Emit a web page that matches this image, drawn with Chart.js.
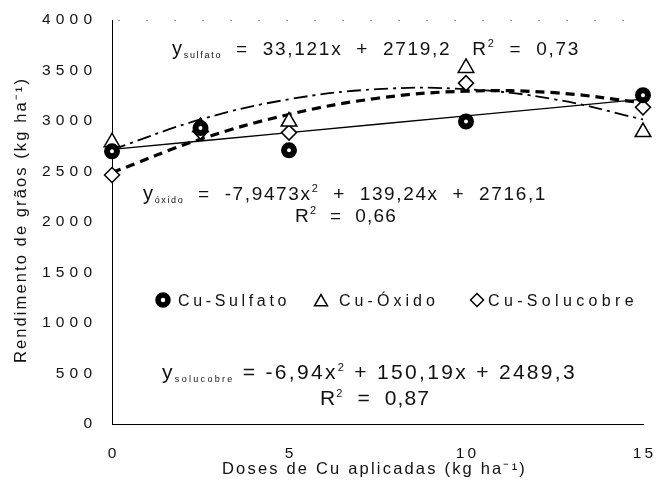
<!DOCTYPE html>
<html>
<head>
<meta charset="utf-8">
<script src="https://cdn.jsdelivr.net/npm/chart.js@4/dist/chart.umd.min.js"></script>
<style>
  html, body { margin: 0; padding: 0; background: #fff; }
  #wrap { width: 658px; height: 488px; }
</style>
</head>
<body>
<div id="wrap"><canvas id="chart"></canvas></div>
<script>
// observed yields (kg/ha) per Cu dose
const doses = [0, 2.5, 5, 10, 15];
const sulfato = [2700, 2930, 2710, 2995, 3255];
const oxido = [2790, 2940, 2995, 3525, 2890];
const solucobre = [2465, 2895, 2885, 3375, 3135];

// fitted curves
const fitX = [0, 2.5, 5, 7.5, 10, 12.5, 15];
const sulfatoFit = [2719, 2802, 2885, 2968, 3050, 3133, 3216];
const oxidoFit = [2716, 3015, 3215, 3315, 3315, 3215, 3015];
const solucobreFit = [2489, 2820, 3065, 3225, 3295, 3280, 3180];

const FONT = '"Liberation Sans", Arial, Helvetica, sans-serif';
const INK = '#111';

function pts(xs, ys){ return xs.map((x,i)=>({x:x, y:ys[i]})); }
function spaced(s, sep){ return String(s).split('').join(sep); }

// draws a run of text pieces (size, baseline shift), stretched to a target width
function rich(ctx, x, y, parts, target){
  ctx.letterSpacing = '0px';
  let natural = 0, chars = 0;
  parts.forEach(p=>{
    ctx.font = p[1] + 'px ' + FONT;
    natural += ctx.measureText(p[0]).width;
    chars += p[0].length;
  });
  const sp = target ? Math.max(-1, (target - natural) / chars) : 0;
  ctx.letterSpacing = sp + 'px';
  parts.forEach(p=>{
    ctx.font = p[1] + 'px ' + FONT;
    ctx.fillText(p[0], x, y + (p[2] || 0));
    x += ctx.measureText(p[0]).width;
  });
  ctx.letterSpacing = '0px';
}

const annotations = {
  id: 'annotations',
  afterDraw(chart){
    const ctx = chart.ctx;
    const a = chart.chartArea;
    ctx.save();
    // faint dotted frame on top
    ctx.strokeStyle = '#999';
    ctx.lineWidth = 1;
    ctx.setLineDash([2, 26]);
    ctx.beginPath();
    ctx.moveTo(a.left + 6, a.top + 0.5);
    ctx.lineTo(a.right, a.top + 0.5);
    ctx.stroke();
    ctx.setLineDash([]);

    ctx.fillStyle = INK;
    ctx.textAlign = 'left';
    ctx.textBaseline = 'alphabetic';

    rich(ctx, 172, 55, [['y',20],['sulfato',9,3],['  =  33,121x  +  2719,2   R',19],['2',11,-8],['  =  0,73',19]], 408);
    rich(ctx, 143, 200, [['y',20],['óxido',9,3],['  =  -7,9473x',19],['2',11,-8],['  +  139,24x  +  2716,1',19]], 404);
    rich(ctx, 295, 222, [['R',19],['2',11,-8],['  =  0,66',19]], 102);
    rich(ctx, 162, 379, [['y',21],['solucobre',9,3],[' = -6,94x',21],['2',11,-8],[' + 150,19x + 2489,3',21]], 415);
    rich(ctx, 320, 405, [['R',21],['2',11,-8],['  =  0,87',21]], 110);

    // legend
    const ly = 300;
    const h = Chart.helpers;
    ctx.strokeStyle = '#000'; ctx.fillStyle = '#fff';
    ctx.lineWidth = 5.5;
    h.drawPoint(ctx, {pointStyle:'circle', radius:5, borderWidth:5.5}, 163, ly);
    ctx.lineWidth = 1.5;
    h.drawPoint(ctx, {pointStyle:'triangle', radius:7.5, borderWidth:1.5}, 321, ly + 2);
    h.drawPoint(ctx, {pointStyle:'rectRot', radius:6.5, borderWidth:1.5}, 477, ly);
    ctx.fillStyle = INK;
    rich(ctx, 178, ly + 6, [['Cu-Sulfato',16]], 112);
    rich(ctx, 339, ly + 6, [['Cu-Óxido',16]], 100);
    rich(ctx, 488, ly + 6, [['Cu-Solucobre',16]], 150);

    // axis titles
    rich(ctx, 222, 474, [['Doses de Cu aplicadas (kg ha⁻¹)',16.5]], 305);
    ctx.translate(26, 220);
    ctx.rotate(-Math.PI / 2);
    rich(ctx, -143, 0, [['Rendimento de grãos (kg ha⁻¹)',16.5]], 286);
    ctx.restore();
  }
};

function noPad(s){
  s.paddingTop = 0; s.paddingBottom = 0; s.paddingLeft = 0; s.paddingRight = 0;
}

new Chart(document.getElementById('chart').getContext('2d'), {
  type: 'scatter',
  data: {
    datasets: [
      { label: 'Cu-Sulfato', data: pts(doses, sulfato), order: 0,
        pointStyle: 'circle', pointRadius: 5, pointBorderWidth: 6,
        pointBackgroundColor: '#fff', pointBorderColor: '#000' },
      { label: 'Cu-Óxido', data: pts(doses, oxido), order: 1,
        pointStyle: 'triangle', pointRadius: 9, pointBorderWidth: 1.5,
        pointBackgroundColor: '#fff', pointBorderColor: '#000' },
      { label: 'Cu-Solucobre', data: pts(doses, solucobre), order: 2,
        pointStyle: 'rectRot', pointRadius: 7.5, pointBorderWidth: 1.5,
        pointBackgroundColor: '#fff', pointBorderColor: '#000' },
      { label: 'sulfato fit', data: pts(fitX, sulfatoFit), order: 3,
        showLine: true, pointRadius: 0, borderColor: '#000', borderWidth: 1.3 },
      { label: 'oxido fit', data: pts(fitX, oxidoFit), order: 4,
        showLine: true, pointRadius: 0, borderColor: '#000', borderWidth: 1.8,
        borderDash: [14, 5, 3, 5], tension: 0.4 },
      { label: 'solucobre fit', data: pts(fitX, solucobreFit), order: 5,
        showLine: true, pointRadius: 0, borderColor: '#000', borderWidth: 3.2,
        borderDash: [9, 6], tension: 0.4 }
    ]
  },
  options: {
    responsive: true,
    maintainAspectRatio: false,
    animation: false,
    clip: false,
    layout: { padding: { top: 20, right: 15, left: 0, bottom: 0 } },
    plugins: { legend: { display: false }, tooltip: { enabled: false } },
    scales: {
      x: {
        type: 'linear', min: 0, max: 15,
        grid: { display: false, drawTicks: false },
        border: { display: true, color: '#000', width: 1 },
        ticks: { stepSize: 5, padding: 20, color: INK,
          font: { family: FONT, size: 15.5 },
          callback: v => spaced(v, '\u2009') },
        afterFit: s => { s.height = 64; noPad(s); }
      },
      y: {
        min: 0, max: 4000,
        grid: { display: false, drawTicks: false },
        border: { display: true, color: '#000', width: 1 },
        ticks: { stepSize: 500, padding: 20, color: INK,
          font: { family: FONT, size: 15.5 },
          callback: v => spaced(v, '\u2004') },
        afterFit: s => { s.width = 112; noPad(s); }
      }
    }
  },
  plugins: [annotations]
});
</script>
</body>
</html>
